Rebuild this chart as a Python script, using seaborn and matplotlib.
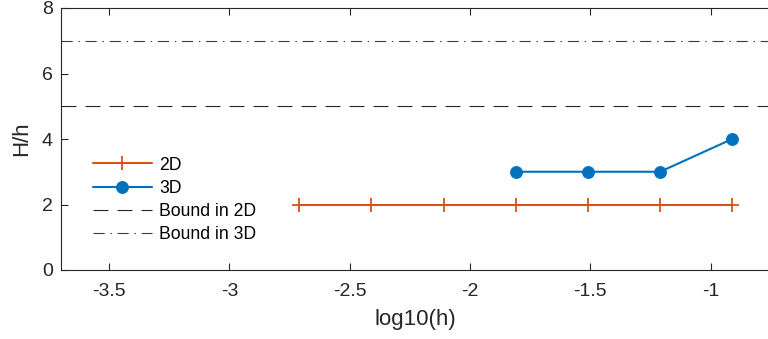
import matplotlib
matplotlib.use("Agg")
import matplotlib.pyplot as plt
import seaborn as sns
import pandas as pd

# data
x_2d = [-2.71, -2.41, -2.11, -1.81, -1.51, -1.21, -0.91]
y_2d = [2, 2, 2, 2, 2, 2, 2]
x_3d = [-1.81, -1.51, -1.21, -0.91]
y_3d = [3, 3, 3, 4]
bound_2d = 5
bound_3d = 7
xticks = [-3.5, -3, -2.5, -2, -1.5, -1]
xticklabels = ['-3.5', '-3', '-2.5', '-2', '-1.5', '-1']
yticks = [0, 2, 4, 6, 8]

sns.set_theme(style="white")
plt.rcParams['font.family'] = ['Liberation Sans', 'DejaVu Sans']

fig = plt.figure(figsize=(7.68, 3.39), dpi=100)
ax = fig.add_axes([61/768, 1 - 270/339, 1 - 61/768 + 0.002, (270 - 8)/339])

c2 = '#D95319'
c3 = '#0072BD'
df2 = pd.DataFrame({'x': x_2d, 'y': y_2d})
df3 = pd.DataFrame({'x': x_3d, 'y': y_3d})
sns.lineplot(data=df2, x='x', y='y', ax=ax, color=c2, marker='+', markersize=10,
             markeredgecolor=c2, markeredgewidth=1.3, linewidth=1.5, label='2D')
sns.lineplot(data=df3, x='x', y='y', ax=ax, color=c3, marker='o', markersize=8.5,
             markeredgecolor=c3, markerfacecolor=c3, linewidth=1.5, label='3D')
ax.axhline(bound_2d, color='#262626', linestyle=(0, (13.5, 8.1)), linewidth=0.8, label='Bound in 2D')
ax.axhline(bound_3d, color='#3a3a3a', linestyle=(0, (10, 5.2, 1.3, 5.2)), linewidth=0.8, label='Bound in 3D')

ax.set_xlim(-3.7, -0.755)
ax.set_ylim(0, 8)
ax.set_xticks(xticks)
ax.set_xticklabels(xticklabels)
ax.set_yticks(yticks)
ax.set_xlabel('log10(h)', fontsize=16, color='#262626', labelpad=7)
ax.set_ylabel('H/h', fontsize=16, color='#262626', labelpad=7)

for s in ['left', 'bottom', 'top']:
    ax.spines[s].set_color('#262626')
    ax.spines[s].set_linewidth(0.8)
ax.spines['right'].set_visible(False)
ax.tick_params(axis='both', direction='in', length=5, width=0.8, color='#262626',
               labelsize=14, labelcolor='#262626', top=True, bottom=True, left=True, right=False)
ax.tick_params(axis='x', pad=9)
ax.tick_params(axis='y', pad=6)

leg = ax.legend(loc='center left', bbox_to_anchor=(0.035, 0.268), frameon=False,
                fontsize=12.7, handlelength=3.35, handletextpad=0.4, labelspacing=0.35,
                borderaxespad=0)
for t in leg.get_texts():
    t.set_color('#000000')

fig.savefig('out.png', dpi=100)
